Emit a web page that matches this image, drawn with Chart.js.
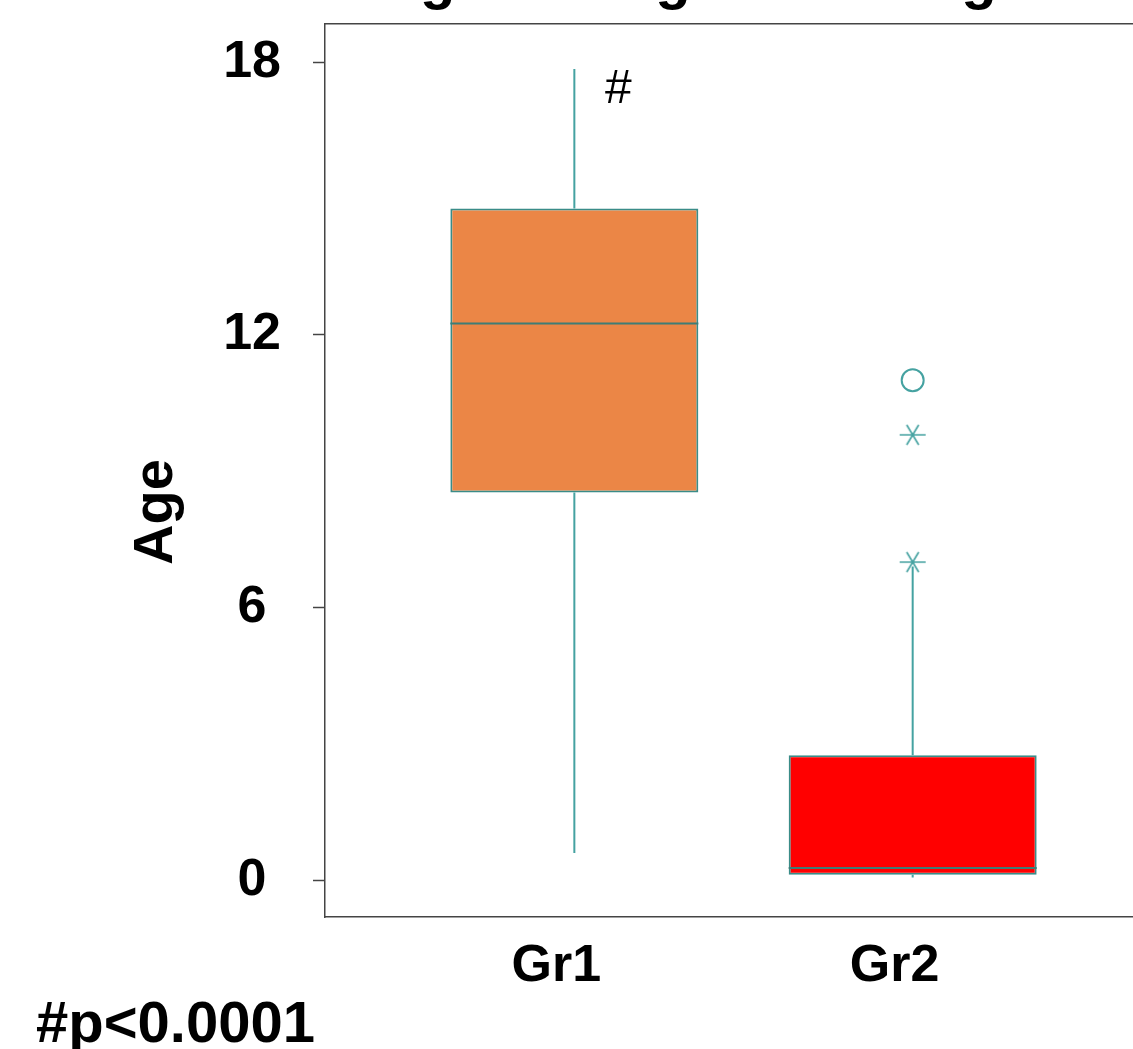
<!DOCTYPE html>
<html>
<head>
<meta charset="utf-8">
<script src="https://cdn.jsdelivr.net/npm/chart.js@4/dist/chart.umd.min.js"></script>
<style>
  html, body { margin: 0; padding: 0; background: #ffffff; overflow: hidden; }
  #wrap { position: relative; width: 1196px; height: 1049px; }
</style>
</head>
<body>
<div id="wrap"><canvas id="ageChart" width="1196" height="1049"></canvas></div>
<script>
// Box plot of age by group.
const GROUPS = ["Gr1", "Gr2"];
const GROUP_POS = [1, 2];
const WHISKER_LOW = [0.6, 0.06];
const Q1 = [8.53, 0.12];
const MEDIAN = [12.25, 0.27];
const Q3 = [14.78, 2.75];
const WHISKER_HIGH = [17.85, 6.9];

// outliers (circle) and extremes (asterisk), both in Gr2
const OUTLIER_GROUP = [2];
const OUTLIER_AGE = [11.0];
const EXTREME_GROUP = [2, 2];
const EXTREME_AGE = [9.8, 7.0];

const Y_TICKS = [0, 6, 12, 18];

const FONT = "'Liberation Sans', Arial, sans-serif";
const TEAL = "#45a2a1";
const TEAL_DARK = "#3a8c88";
const MEDIAN_COLOR = "#3d7d76";
const BOX_FILL = ["#eb8646", "#ff0000"];
const BOX_WIDTH = 0.733; // in x units (one unit = spacing between groups)

// whiskers: one line dataset, broken with null points
const whiskerPoints = [];
GROUP_POS.forEach((x, i) => {
    whiskerPoints.push({ x, y: Q3[i] }, { x, y: WHISKER_HIGH[i] }, { x, y: null });
    whiskerPoints.push({ x, y: Q1[i] }, { x, y: WHISKER_LOW[i] }, { x, y: null });
});

const medianPoints = [];
GROUP_POS.forEach((x, i) => {
    medianPoints.push({ x: x - BOX_WIDTH / 2, y: MEDIAN[i] }, { x: x + BOX_WIDTH / 2, y: MEDIAN[i] }, { x, y: null });
});

// asterisk marker as in the SPSS style plot
function asteriskImage() {
    const c = document.createElement("canvas");
    c.width = 28;
    c.height = 22;
    const g = c.getContext("2d");
    g.strokeStyle = TEAL;
    g.lineWidth = 1.6;
    g.beginPath();
    g.moveTo(1, 11); g.lineTo(27, 11);
    g.moveTo(8, 1); g.lineTo(20, 21);
    g.moveTo(20, 1); g.lineTo(8, 21);
    g.stroke();
    return c;
}

// no label overhang padding: the frame sits where the reference puts it
function noPadding(scale) {
    scale.paddingTop = 0;
    scale.paddingBottom = 0;
    scale.paddingLeft = 0;
    scale.paddingRight = 0;
}

const labelsPlugin = {
    id: "boxLabels",
    afterDraw(chart) {
        const { ctx, chartArea, scales } = chart;
        ctx.save();
        ctx.fillStyle = "#000";
        // title, mostly cut off above the picture
        ctx.font = `bold 58px ${FONT}`;
        ctx.textAlign = "left";
        ctx.textBaseline = "alphabetic";
        ctx.fillText("Age at diagnosis of age Groups", chartArea.left + 53, -2);
        // y axis title
        ctx.save();
        ctx.translate(157, scales.y.getPixelForValue(8.1));
        ctx.rotate(-Math.PI / 2);
        ctx.textAlign = "center";
        ctx.textBaseline = "middle";
        ctx.font = `bold 56px ${FONT}`;
        ctx.fillText("Age", 0, 0);
        ctx.restore();
        // significance mark above Gr1
        ctx.font = `48px ${FONT}`;
        ctx.textAlign = "center";
        ctx.textBaseline = "middle";
        ctx.fillText("#", scales.x.getPixelForValue(1.13), scales.y.getPixelForValue(17.4));
        // footnote
        ctx.font = `bold 58px ${FONT}`;
        ctx.textAlign = "left";
        ctx.textBaseline = "alphabetic";
        ctx.fillText("#p<0.0001", 36, 1042);
        ctx.restore();
    },
};

new Chart(document.getElementById("ageChart"), {
    type: "bar",
    data: {
        datasets: [
            {
                type: "bar",
                data: GROUP_POS.map((x, i) => ({ x, y: [Q1[i], Q3[i]] })),
                backgroundColor: BOX_FILL,
                borderColor: TEAL_DARK,
                borderWidth: 2,
                borderSkipped: false,
                barPercentage: BOX_WIDTH,
                categoryPercentage: 1,
                order: 3,
            },
            {
                type: "line",
                data: medianPoints,
                borderColor: MEDIAN_COLOR,
                borderWidth: 2,
                pointRadius: 0,
                spanGaps: false,
                order: 1,
            },
            {
                type: "line",
                data: whiskerPoints,
                borderColor: TEAL,
                borderWidth: 2,
                pointRadius: 0,
                spanGaps: false,
                order: 2,
            },
            {
                type: "line",
                data: OUTLIER_GROUP.map((x, i) => ({ x, y: OUTLIER_AGE[i] })),
                showLine: false,
                pointStyle: "circle",
                pointRadius: 11,
                pointBorderWidth: 2,
                pointBorderColor: TEAL,
                pointBackgroundColor: "rgba(0,0,0,0)",
                order: 0,
            },
            {
                type: "line",
                data: EXTREME_GROUP.map((x, i) => ({ x, y: EXTREME_AGE[i] })),
                showLine: false,
                pointStyle: asteriskImage(),
                order: 0,
            },
        ],
    },
    options: {
        responsive: false,
        animation: false,
        layout: { padding: 0 },
        plugins: { legend: { display: false }, tooltip: { enabled: false } },
        scales: {
            x: {
                type: "linear",
                position: "bottom",
                min: 0.263,
                max: 2.799,
                offset: false,
                afterBuildTicks: (scale) => { scale.ticks = GROUP_POS.map((v) => ({ value: v })); },
                afterFit: (scale) => { scale.height = 132; noPadding(scale); },
                ticks: {
                    callback: (value) => GROUPS[GROUP_POS.indexOf(value)] || "",
                    font: { family: FONT, size: 52, weight: "bold" },
                    color: "#000",
                    padding: 18,
                    labelOffset: -18,
                    maxRotation: 0,
                },
                grid: { display: true, drawOnChartArea: false, drawTicks: false, offset: false },
                border: { display: true, color: "#444", width: 1.5 },
            },
            xTop: {
                type: "linear",
                position: "top",
                min: 0.263,
                max: 2.799,
                afterFit: (scale) => { scale.height = 24; noPadding(scale); },
                ticks: { display: false },
                grid: { display: true, drawOnChartArea: false, drawTicks: false },
                border: { display: true, color: "#444", width: 1.5 },
            },
            y: {
                type: "linear",
                min: -0.81,
                max: 18.84,
                afterBuildTicks: (scale) => { scale.ticks = Y_TICKS.map((v) => ({ value: v })); },
                afterFit: (scale) => { scale.width = 325; noPadding(scale); },
                ticks: {
                    font: { family: FONT, size: 52, weight: "bold" },
                    color: "#000",
                    crossAlign: "center",
                    padding: 32,
                },
                grid: { display: true, drawOnChartArea: false, tickLength: 12, color: "#444", tickWidth: 1.5 },
                border: { display: true, color: "#444", width: 1.5 },
            },
        },
    },
    plugins: [labelsPlugin],
});
</script>
</body>
</html>
